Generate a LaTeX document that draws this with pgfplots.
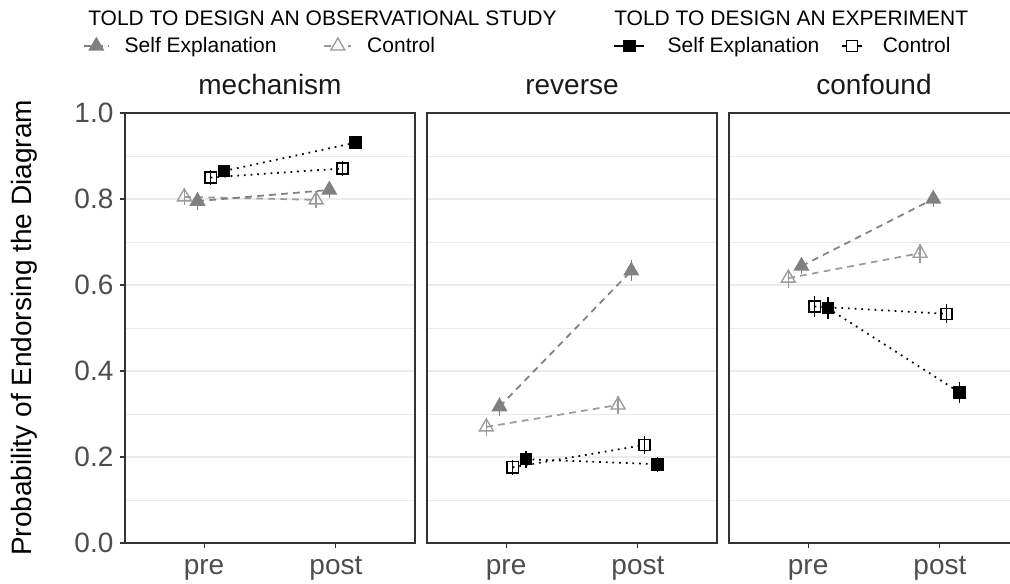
\documentclass[border=0pt]{standalone}
\usepackage{pgfplots}
\pgfplotsset{compat=1.18}
\usepackage{pgfplotstable}
\usepackage{fontspec}
\setmainfont{Liberation Sans}

\definecolor{obsSelf}{HTML}{808080}
\definecolor{obsCtrl}{HTML}{9A9A9A}
\definecolor{frame}{HTML}{333333}
\definecolor{ticktext}{HTML}{4D4D4D}
\definecolor{striptext}{HTML}{1A1A1A}
\definecolor{gridgray}{HTML}{EBEBEB}

\newcommand{\bigfont}{\fontsize{21pt}{24pt}\selectfont}
\newcommand{\legfont}{\fontsize{15.75pt}{18pt}\selectfont}

% phase: 1 = pre, 2 = post
% oc/os: observational study (control / self explanation)
% ec/es: experiment (control / self explanation); *E = half error bar
\pgfplotstableread{
phase oc    ocE   os    osE   ec    ecE   es    esE
1     0.805 0.020 0.795 0.020 0.850 0.018 0.865 0.015
2     0.798 0.020 0.821 0.018 0.871 0.017 0.931 0.010
}\mechanism
\pgfplotstableread{
phase oc    ocE   os    osE   ec    ecE   es    esE
1     0.270 0.021 0.317 0.022 0.176 0.018 0.195 0.020
2     0.321 0.022 0.633 0.024 0.228 0.020 0.183 0.018
}\reverse
\pgfplotstableread{
phase oc    ocE   os    osE   ec    ecE   es    esE
1     0.616 0.022 0.644 0.018 0.550 0.025 0.546 0.025
2     0.674 0.022 0.800 0.018 0.533 0.022 0.350 0.024
}\confound

\pgfplotsset{
  obsctrl/.style={color=obsCtrl, line width=1.3pt, dash pattern=on 5pt off 4pt,
    mark=triangle, mark size=6pt, mark options={solid, line width=1pt}},
  obsself/.style={color=obsSelf, line width=1.3pt, dash pattern=on 5pt off 4pt,
    mark=triangle*, mark size=6pt, mark options={solid, line width=1pt}},
  expctrl/.style={color=black, line width=1.3pt, dash pattern=on 1.3pt off 3.7pt,
    mark=square, mark size=4.2pt, mark options={solid, line width=1pt}},
  expself/.style={color=black, line width=1.3pt, dash pattern=on 1.3pt off 3.7pt,
    mark=square*, mark size=4.2pt, mark options={solid, line width=1pt}},
  errs/.style={error bars/y dir=both, error bars/y explicit, error bars/error mark=none,
    error bars/error bar style={solid, line width=1.2pt}},
  % legend key: a short line of length #1 with the mark in its middle
  key/.style={legend image code/.code={%
    \draw[mark repeat=2, mark phase=2, ##1] plot coordinates {(0pt,0pt) (#1/2,0pt) (#1,0pt)};}},
  panel/.style={
    scale only axis, width=217.5pt, height=322.5pt,
    xmin=0.4, xmax=2.6, ymin=0, ymax=1,
    xtick={1,2}, xticklabels={pre,post},
    ytick={0,0.2,0.4,0.6,0.8,1.0},
    minor ytick={0.1,0.3,0.5,0.7,0.9},
    ymajorgrids, yminorgrids,
    major grid style={gridgray, line width=0.8pt},
    minor grid style={gridgray, line width=0.5pt},
    axis line style={frame, line width=1pt},
    tick align=outside, xtick pos=bottom, ytick pos=left,
    major tick length=3.5pt, minor tick length=0pt,
    tick style={frame, line width=0.8pt},
    ticklabel style={font=\bigfont, text=ticktext, inner sep=0pt},
    xticklabel style={anchor=base, yshift=-20.5pt},
    yticklabel style={anchor=east, xshift=-5pt},
    title style={at={(0.5,1)}, anchor=base, yshift=7.5pt, font=\bigfont, text=striptext},
    clip=false,
  },
  noy/.style={yticklabels={}, y tick style={draw=none}},
}

\begin{document}
\begin{tikzpicture}
% mechanism
\begin{axis}[panel, at={(93.75pt,30.75pt)}, anchor=south west, title=mechanism,
  yticklabels={0.0,0.2,0.4,0.6,0.8,1.0},
  legend columns=2,
  legend style={at={(-0.1448,1.1558)}, anchor=west, draw=none, fill=none,
    inner sep=0pt, outer sep=0pt, font=\legfont, nodes={inner sep=0pt},
    /tikz/column 1/.style={column sep=11.25pt},
    /tikz/column 2/.style={column sep=35.25pt},
    /tikz/column 3/.style={column sep=11.25pt}},
]
\addlegendimage{obsself, key=18.75pt}
\addlegendentry{Self Explanation}
\addlegendimage{obsctrl, key=20.25pt, mark options={solid, line width=1pt, fill=white}, mark=triangle*}
\addlegendentry{Control}
\addplot[forget plot, obsctrl, errs] table[x expr=\thisrow{phase}-0.15, y=oc, y error=ocE] {\mechanism};
\addplot[forget plot, obsself, errs] table[x expr=\thisrow{phase}-0.05, y=os, y error=osE] {\mechanism};
\addplot[forget plot, expctrl, errs] table[x expr=\thisrow{phase}+0.05, y=ec, y error=ecE] {\mechanism};
\addplot[forget plot, expself, errs] table[x expr=\thisrow{phase}+0.15, y=es, y error=esE] {\mechanism};
\end{axis}

% reverse
\begin{axis}[panel, noy, at={(320.25pt,30.75pt)}, anchor=south west, title=reverse,
  legend columns=2,
  legend style={at={(0.6414,1.1558)}, anchor=west, draw=none, fill=none,
    inner sep=0pt, outer sep=0pt, font=\legfont, nodes={inner sep=0pt},
    /tikz/column 1/.style={column sep=16.5pt},
    /tikz/column 2/.style={column sep=16.5pt},
    /tikz/column 3/.style={column sep=15pt}},
]
\addlegendimage{expself, solid, line width=2pt, key=22.5pt}
\addlegendentry{Self Explanation}
\addlegendimage{expctrl, solid, line width=1pt, key=15pt, mark=square*, mark options={solid, line width=1pt, fill=white}}
\addlegendentry{Control}
\addplot[forget plot, obsctrl, errs] table[x expr=\thisrow{phase}-0.15, y=oc, y error=ocE] {\reverse};
\addplot[forget plot, obsself, errs] table[x expr=\thisrow{phase}-0.05, y=os, y error=osE] {\reverse};
\addplot[forget plot, expctrl, errs] table[x expr=\thisrow{phase}+0.05, y=ec, y error=ecE] {\reverse};
\addplot[forget plot, expself, errs] table[x expr=\thisrow{phase}+0.15, y=es, y error=esE] {\reverse};
\end{axis}

% confound
\begin{axis}[panel, noy, at={(546.75pt,30.75pt)}, anchor=south west, title=confound]
\addplot[obsctrl, errs] table[x expr=\thisrow{phase}-0.15, y=oc, y error=ocE] {\confound};
\addplot[obsself, errs] table[x expr=\thisrow{phase}-0.05, y=os, y error=osE] {\confound};
\addplot[expctrl, errs] table[x expr=\thisrow{phase}+0.05, y=ec, y error=ecE] {\confound};
\addplot[expself, errs] table[x expr=\thisrow{phase}+0.15, y=es, y error=esE] {\confound};
\end{axis}

% legend titles and the shared y-axis title
\node[anchor=base west, inner sep=0pt, font=\legfont] at (66pt,418.5pt) {TOLD TO DESIGN AN OBSERVATIONAL STUDY};
\node[anchor=base west, inner sep=0pt, font=\legfont] at (460.5pt,418.5pt) {TOLD TO DESIGN AN EXPERIMENT};
\node[rotate=90, inner sep=0pt, font=\bigfont] at (18.5pt,192pt) {Probability of Endorsing the Diagram};

\pgfresetboundingbox
\useasboundingbox (0pt,0pt) rectangle (757.5pt,438pt);
\end{tikzpicture}
\end{document}
